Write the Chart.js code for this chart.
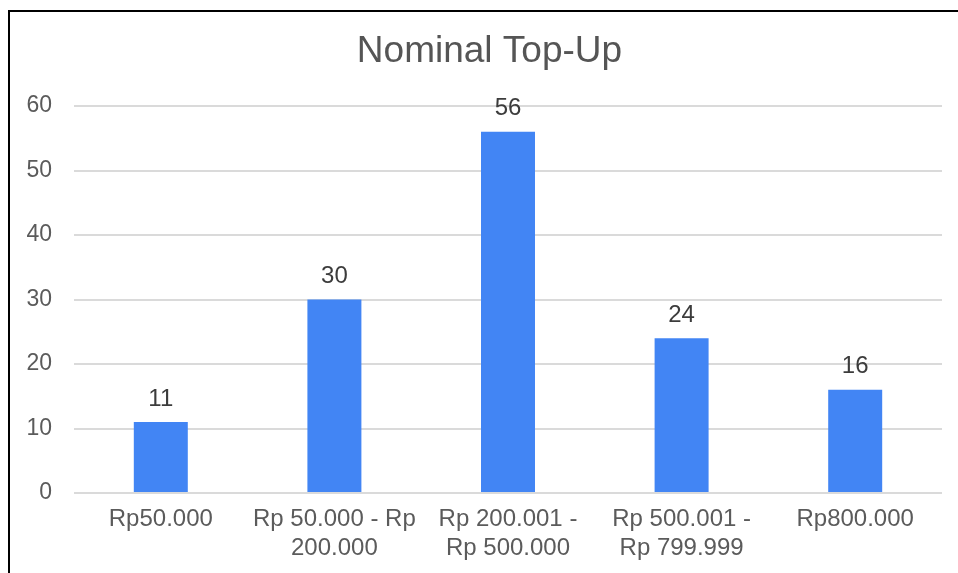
<!DOCTYPE html>
<html>
<head>
<meta charset="utf-8">
<script src="https://cdn.jsdelivr.net/npm/chart.js@4/dist/chart.umd.min.js"></script>
<style>
  html, body { margin: 0; padding: 0; background: #fff; overflow: hidden; }
  #frame {
    position: absolute; left: 8px; top: 10px;
    width: 961px; height: 570px;
    border-left: 2px solid #000; border-top: 2px solid #000;
  }
  #wrap { position: absolute; left: 0; top: 0; width: 959px; height: 561px; }
</style>
</head>
<body>
<div id="frame"><div id="wrap"><canvas id="chart_nominalTopUp"></canvas></div></div>
<script>
// data
var categories = [
    'Rp50.000',
    ['Rp 50.000 - Rp', '200.000'],
    ['Rp 200.001 -', 'Rp 500.000'],
    ['Rp 500.001 -', 'Rp 799.999'],
    'Rp800.000'
];
var values = [11, 30, 56, 24, 16];
var yMin = 0, yMax = 60, yStep = 10;

var fontFamily = '"Liberation Sans", Arial, sans-serif';

// numbers above each bar
var barLabels = {
    id: 'barLabels',
    afterDatasetsDraw: function(chart) {
        var ctx = chart.ctx;
        ctx.save();
        ctx.font = '24px ' + fontFamily;
        ctx.fillStyle = '#3c3c3c';
        ctx.textAlign = 'center';
        ctx.textBaseline = 'middle';
        chart.getDatasetMeta(0).data.forEach(function(bar, i) {
            ctx.fillText(values[i], bar.x, bar.y - 23);
        });
        ctx.restore();
    }
};

var chart_nominalTopUp = new Chart(document.getElementById('chart_nominalTopUp'), {
    type: 'bar',
    data: {
        labels: categories,
        datasets: [
            {
                label: 'Nominal Top-Up',
                data: values,
                backgroundColor: '#4285F4',
                borderWidth: 0,
                barPercentage: 0.311,
                categoryPercentage: 1
            }
        ]
    },
    options: {
        animation: false,
        responsive: true,
        maintainAspectRatio: false,
        layout: {
            padding: 0
        },
        plugins: {
            legend: { display: false },
            tooltip: { enabled: false },
            title: {
                display: true,
                text: 'Nominal Top-Up',
                color: '#555555',
                font: { family: fontFamily, size: 37, weight: 'normal' },
                padding: { top: 18, bottom: 31.6 }
            }
        },
        scales: {
            x: {
                grid: { display: false, drawTicks: false },
                border: { display: false },
                ticks: {
                    color: '#5b5b5b',
                    font: { family: fontFamily, size: 24 },
                    padding: 12,
                    maxRotation: 0,
                    autoSkip: false
                },
                afterFit: function(scale) { scale.height = 80; }
            },
            y: {
                min: yMin,
                max: yMax,
                grid: { color: '#dadada', lineWidth: 2, drawTicks: false },
                border: { display: false },
                ticks: {
                    stepSize: yStep,
                    color: '#5b5b5b',
                    font: { family: fontFamily, size: 23 },
                    padding: 22
                },
                afterFit: function(scale) { scale.width = 64; }
            },
            // empty right margin, kept as an axis so the title stays centred on the whole canvas
            yRight: {
                position: 'right',
                display: true,
                grid: { display: false, drawTicks: false },
                border: { display: false },
                ticks: { display: false },
                afterFit: function(scale) { scale.width = 27; }
            }
        }
    },
    plugins: [barLabels, {
        id: 'whiteBackground',
        beforeDraw: (chart) => {
            const ctx = chart.canvas.getContext('2d');
            ctx.save();
            ctx.globalCompositeOperation = 'destination-over';
            ctx.fillStyle = 'white';
            ctx.fillRect(0, 0, chart.canvas.width, chart.canvas.height);
            ctx.restore();
        }
    }]
});
</script>
</body>
</html>
